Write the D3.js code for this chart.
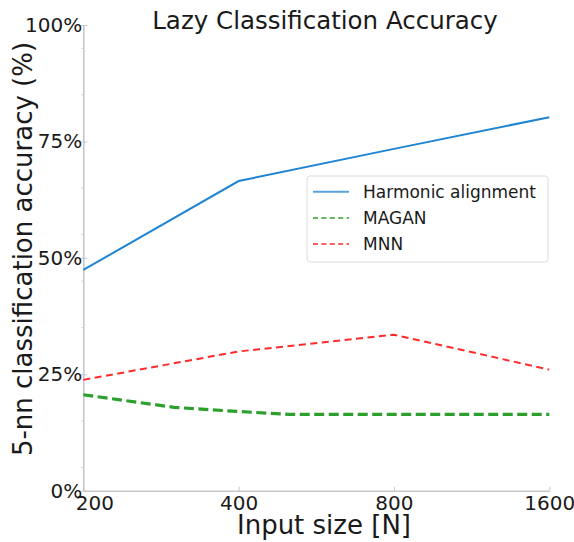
<!DOCTYPE html>
<html><head><meta charset="utf-8">
<script src="https://cdn.jsdelivr.net/npm/d3@7"></script>
<style>body{margin:0;background:#fff} svg text{font-family:"DejaVu Sans",sans-serif;fill:#1a1a1a}</style>
</head><body><svg id="c" width="574" height="542"></svg>
<script>
// ---- data ----
const harmonicN = [200, 400, 800, 1600];
const harmonicAcc = [47.4, 66.5, 73.4, 80.2];
const maganN = [200, 300, 400, 500, 800, 1600];
const maganAcc = [20.6, 17.9, 17.0, 16.4, 16.4, 16.4];
const mnnN = [200, 400, 800, 1600];
const mnnAcc = [23.8, 29.9, 33.5, 26.0];
const xTicks = [200, 400, 800, 1600];
const yTicks = [0, 25, 50, 75, 100];
const yMinorTicks = [5, 15, 35, 45, 55, 65, 85, 95];
const seriesNames = ["Harmonic alignment", "MAGAN", "MNN"];
const titleText = "Lazy Classification Accuracy";
const xLabel = "Input size [N]";
const yLabel = "5-nn classification accuracy (%)";

// ---- layout ----
const W = 574, H = 542;
const m = {left: 83.3, right: 24.7, top: 25, bottom: 51.3};
const svg = d3.select("#c");
const x = d3.scaleLog().base(2).domain([200, 1600]).range([m.left, W - m.right]);
const y = d3.scaleLinear().domain([0, 100]).range([H - m.bottom, m.top]);
const spine = "#c8c8c8";

const series = [
  {name: seriesNames[0], n: harmonicN, v: harmonicAcc, color: "#1f84d2", width: 2, dash: null},
  {name: seriesNames[1], n: maganN, v: maganAcc, color: "#2ca02c", width: 3.2, dash: "10,4.5"},
  {name: seriesNames[2], n: mnnN, v: mnnAcc, color: "#ff2a2a", width: 2, dash: "7,4.5"}
];

// minor y ticks
svg.append("g").selectAll("line").data(yMinorTicks).join("line")
  .attr("x1", m.left - 2).attr("x2", m.left + 1)
  .attr("y1", d => y(d)).attr("y2", d => y(d))
  .attr("stroke", "#d0d0d0").attr("stroke-width", 1);

// x axis
const gx = svg.append("g").attr("transform", `translate(0,${H - m.bottom})`)
  .call(d3.axisBottom(x).tickValues(xTicks).tickFormat(d3.format("d"))
    .tickSize(-4).tickSizeOuter(0).tickPadding(5));
gx.select(".domain").attr("stroke", spine).attr("stroke-width", 1.6);
gx.selectAll(".tick line").attr("stroke", spine).attr("stroke-width", 1);
gx.selectAll(".tick text").attr("font-size", 20).attr("font-family", "DejaVu Sans").attr("fill", "#1a1a1a");
gx.selectAll(".tick text").filter((d, i) => i === 0).attr("dx", 11);

// y axis
const gy = svg.append("g").attr("transform", `translate(${m.left},0)`)
  .call(d3.axisLeft(y).tickValues(yTicks).tickFormat(d => d + "%")
    .tickSize(2).tickSizeOuter(0).tickPadding(-1));
gy.select(".domain").attr("stroke", spine).attr("stroke-width", 1.6);
gy.selectAll(".tick line").attr("stroke", spine).attr("stroke-width", 1).attr("x2", 4).attr("x1", -2);
gy.selectAll(".tick text").attr("font-size", 20).attr("font-family", "DejaVu Sans").attr("fill", "#1a1a1a");

// lines
const line = d3.line().x(d => x(d[0])).y(d => y(d[1]));
svg.append("g").selectAll("path").data(series).join("path")
  .attr("d", s => line(s.n.map((n, i) => [n, s.v[i]])))
  .attr("fill", "none")
  .attr("stroke", s => s.color)
  .attr("stroke-width", s => s.width)
  .attr("stroke-dasharray", s => s.dash);

// title & labels
svg.append("text").attr("x", 325).attr("y", 29).attr("text-anchor", "middle")
  .attr("font-size", 24.5).text(titleText);
svg.append("text").attr("x", 324).attr("y", 534).attr("text-anchor", "middle")
  .attr("font-size", 26).text(xLabel);
svg.append("text").attr("transform", "translate(32,249) rotate(-90)").attr("text-anchor", "middle")
  .attr("font-size", 26).text(yLabel);

// legend
const lg = svg.append("g").attr("transform", "translate(307,176)");
lg.append("rect").attr("width", 241).attr("height", 86).attr("rx", 3)
  .attr("fill", "#fff").attr("fill-opacity", 0.8).attr("stroke", "#dcdcdc").attr("stroke-width", 1);
const rows = lg.selectAll("g").data(series).join("g")
  .attr("transform", (d, i) => `translate(0,${15.7 + i * 26.2})`);
rows.append("line").attr("x1", 6).attr("x2", 42)
  .attr("stroke", s => s.color).attr("stroke-opacity", 0.75)
  .attr("stroke-width", 2)
  .attr("stroke-dasharray", (s, i) => i === 0 ? null : "5,3.4");
rows.append("text").attr("x", 56).attr("dy", "0.36em").attr("font-size", 17).text(s => s.name);
</script></body></html>
